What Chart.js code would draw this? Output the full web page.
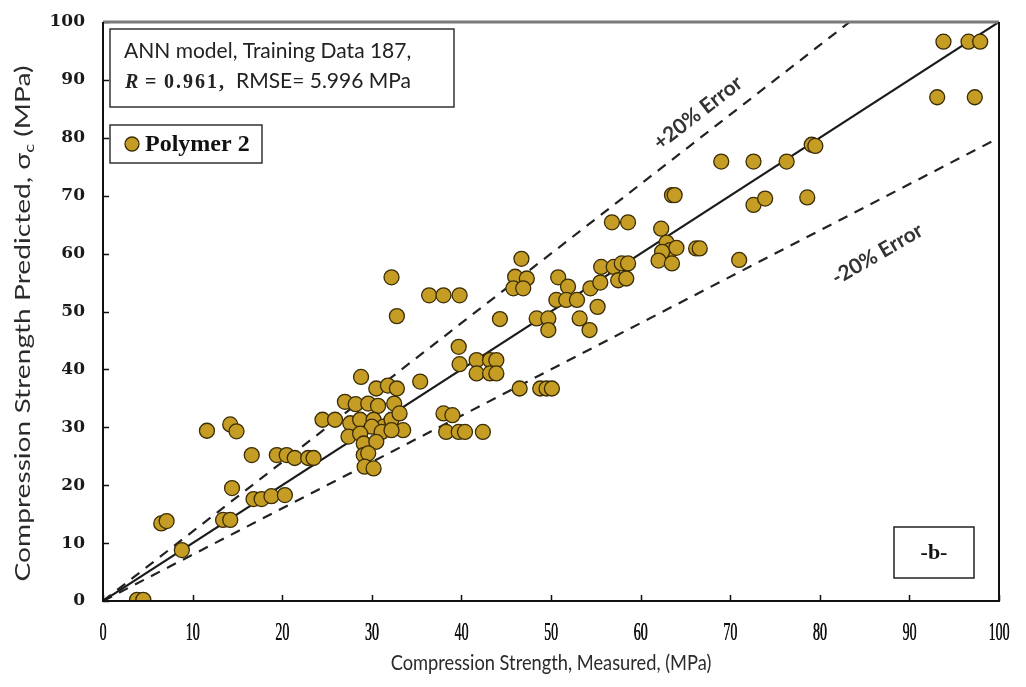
<!DOCTYPE html>
<html>
<head>
<meta charset="utf-8">
<title>ANN model - Polymer 2</title>
<script src="https://cdn.jsdelivr.net/npm/chart.js@4.4.1/dist/chart.umd.min.js"></script>
<style>
	html, body { margin: 0; padding: 0; background: #fff; }
	#wrap { width: 1026px; height: 687px; }
</style>
</head>
<body>
<div id="wrap"><canvas id="chart" width="1026" height="687"></canvas></div>
<script>
// measured vs predicted compression strength (MPa), Polymer 2 training set
const measured = [
	3.8, 4.5, 6.5, 7.1, 8.8, 11.6, 13.4, 14.2, 14.2, 14.9,
	14.4, 16.6, 16.8, 17.7, 18.8, 20.3, 19.4, 20.5, 21.4, 22.9,
	23.5, 24.5, 25.9, 27.0, 28.2, 29.6, 30.7, 32.5, 27.6, 28.7,
	30.2, 31.3, 32.2, 33.1, 30.0, 33.5, 27.4, 28.7, 31.1, 32.2,
	29.1, 30.5, 29.1, 29.6, 29.2, 30.2, 28.8, 30.5, 31.8, 32.8,
	35.4, 32.2, 32.8, 36.4, 38.0, 39.8, 38.0, 39.0, 38.3, 39.7,
	40.4, 42.4, 39.7, 39.8, 41.7, 43.2, 43.9, 41.7, 43.2, 43.9,
	44.3, 46.5, 48.8, 49.5, 50.1, 46.7, 46.0, 47.3, 45.8, 46.9,
	48.4, 49.7, 49.7, 50.8, 51.9, 50.6, 51.7, 52.9, 53.2, 54.3,
	55.2, 54.4, 55.5, 55.6, 57.0, 57.9, 58.6, 57.5, 58.4, 56.8,
	58.6, 62.3, 62.9, 63.3, 62.4, 64.0, 62.0, 63.5, 66.2, 66.6,
	71.0, 63.5, 63.8, 72.6, 73.9, 78.6, 69.0, 72.6, 76.3, 79.1,
	79.5, 93.1, 97.3, 93.8, 96.6, 97.9
];
const predicted = [
	0.2, 0.2, 13.4, 13.8, 8.8, 29.4, 14.0, 14.0, 30.5, 29.3,
	19.5, 25.2, 17.6, 17.6, 18.1, 18.3, 25.2, 25.2, 24.7, 24.7,
	24.7, 31.3, 31.3, 34.4, 34.0, 34.1, 33.7, 34.1, 30.7, 31.3,
	31.3, 30.1, 31.3, 32.4, 30.1, 29.5, 28.4, 28.9, 29.2, 29.5,
	27.2, 27.5, 25.2, 25.5, 23.2, 22.9, 38.7, 36.7, 37.2, 36.7,
	37.9, 55.9, 49.2, 52.8, 52.8, 52.8, 32.4, 32.1, 29.2, 29.2,
	29.2, 29.2, 43.9, 40.9, 41.6, 41.6, 41.6, 39.3, 39.3, 39.3,
	48.7, 36.7, 36.7, 36.7, 36.7, 59.1, 56.0, 55.7, 54.0, 54.0,
	48.8, 48.8, 46.8, 55.9, 54.3, 52.0, 52.0, 52.0, 48.8, 46.8,
	50.8, 54.0, 55.0, 57.7, 57.7, 58.3, 58.3, 55.4, 55.7, 65.4,
	65.4, 64.3, 61.9, 60.6, 60.3, 61.0, 58.8, 58.3, 60.9, 60.9,
	58.9, 70.1, 70.1, 68.4, 69.5, 69.7, 75.9, 75.9, 75.9, 78.8,
	78.6, 87.0, 87.0, 96.6, 96.6, 96.6
];
const axisTicks = [0, 10, 20, 30, 40, 50, 60, 70, 80, 90, 100];
const axisMax = 100;
const errorBand = 0.2; // +/- 20 %

const seriesName = 'Polymer 2';
const infoLine1 = 'ANN model, Training Data 187,';
const infoR = '0.961';
const infoRmse = 'RMSE= 5.996 MPa';
const panelTag = '-b-';
const xTitle = 'Compression Strength, Measured, (MPa)';

const points = measured.map((m, i) => ({ x: m, y: predicted[i] }));
const perfectLine = [{ x: 0, y: 0 }, { x: axisMax, y: axisMax }];
const upperLine = [{ x: 0, y: 0 }, { x: axisMax / (1 + errorBand), y: axisMax }];
const lowerLine = [{ x: 0, y: 0 }, { x: axisMax, y: axisMax * (1 - errorBand) }];

const dotFill = '#c59c24';
const dotEdge = '#3a2d06';

// frame, inward ticks, titles and boxed notes
const decorations = {
	id: 'decorations',
	afterDraw(chart){
		const ctx = chart.ctx;
		const area = chart.chartArea;
		const xs = chart.scales.x;
		const ys = chart.scales.y;
		ctx.save();

		// inward tick marks
		ctx.strokeStyle = '#111';
		ctx.lineWidth = 1.5;
		axisTicks.forEach(t => {
			const px = Math.round(xs.getPixelForValue(t)) + 0.5;
			const py = Math.round(ys.getPixelForValue(t)) + 0.5;
			ctx.beginPath();
			ctx.moveTo(px, area.bottom);
			ctx.lineTo(px, area.bottom - 6);
			ctx.moveTo(area.left, py);
			ctx.lineTo(area.left + 6, py);
			ctx.stroke();
		});

		// plot frame
		ctx.strokeStyle = '#7a7a7a';
		ctx.lineWidth = 3;
		ctx.beginPath();
		ctx.moveTo(area.left, area.top);
		ctx.lineTo(area.right, area.top);
		ctx.stroke();
		ctx.strokeStyle = '#111';
		ctx.lineWidth = 2;
		ctx.beginPath();
		ctx.moveTo(area.right, area.top);
		ctx.lineTo(area.right, area.bottom);
		ctx.lineTo(area.left, area.bottom);
		ctx.lineTo(area.left, area.top);
		ctx.stroke();

		// x tick labels, narrow serif
		ctx.fillStyle = '#111';
		ctx.font = '25px "Liberation Serif"';
		ctx.textAlign = 'center';
		ctx.textBaseline = 'middle';
		axisTicks.forEach(t => {
			const px = xs.getPixelForValue(t);
			ctx.save();
			ctx.translate(px, 633);
			ctx.scale(0.56, 1);
			ctx.fillText(String(t), 0, 0);
			ctx.fillText(String(t), 0.6, 0);
			ctx.restore();
		});

		// axis titles, x title narrowed
		ctx.fillStyle = '#2b2b2b';
		ctx.save();
		ctx.translate((area.left + area.right) / 2, 663);
		ctx.scale(0.83, 1);
		ctx.font = '22px Lato';
		ctx.fillText(xTitle, 0, 0);
		ctx.restore();

		// y title is stretched along its length
		ctx.save();
		ctx.translate(23, (area.top + area.bottom) / 2 + 12);
		ctx.rotate(-Math.PI / 2);
		ctx.scale(1.34, 1);
		const partA = 'Compression Strength Predicted, σ';
		const partC = 'c';
		const partB = ' (MPa)';
		ctx.font = '21px Lato';
		const wA = ctx.measureText(partA).width;
		const wB = ctx.measureText(partB).width;
		ctx.font = '14px Lato';
		const wC = ctx.measureText(partC).width;
		let cx = -(wA + wB + wC) / 2;
		ctx.textAlign = 'left';
		ctx.font = '21px Lato';
		ctx.fillText(partA, cx, 0);
		cx += wA;
		ctx.font = '14px Lato';
		ctx.fillText(partC, cx, 6);
		cx += wC;
		ctx.font = '21px Lato';
		ctx.fillText(partB, cx, 0);
		ctx.restore();

		// info box
		ctx.strokeStyle = '#333';
		ctx.lineWidth = 1.5;
		ctx.strokeRect(110, 29, 344, 78);
		ctx.fillStyle = '#222';
		ctx.textAlign = 'left';
		ctx.textBaseline = 'alphabetic';
		ctx.font = '21px Lato';
		ctx.fillText(infoLine1, 124, 58);
		ctx.font = 'italic bold 20px "Liberation Serif"';
		ctx.fillText('R', 125, 88);
		ctx.font = 'bold 20px "Liberation Serif"';
		ctx.fillText('=', 145, 88);
		ctx.letterSpacing = '2px';
		ctx.fillText(infoR + ',', 164, 88);
		ctx.letterSpacing = '0px';
		ctx.font = '21px Lato';
		ctx.fillText(infoRmse, 236, 88);

		// legend box
		ctx.strokeRect(110, 125, 152, 38);
		ctx.beginPath();
		ctx.arc(132, 144, 7, 0, Math.PI * 2);
		ctx.fillStyle = dotFill;
		ctx.fill();
		ctx.strokeStyle = dotEdge;
		ctx.lineWidth = 1.3;
		ctx.stroke();
		ctx.fillStyle = '#111';
		ctx.font = 'bold 24px "Liberation Serif"';
		ctx.textBaseline = 'middle';
		ctx.fillText(seriesName, 145, 145);

		// panel tag
		ctx.strokeStyle = '#222';
		ctx.lineWidth = 1.5;
		ctx.strokeRect(894, 527, 80, 51);
		ctx.textAlign = 'center';
		ctx.font = 'bold 22px "Liberation Serif"';
		ctx.fillText(panelTag, 934, 553);

		// error band labels, along the dashed lines
		const slope = (line) => {
			const p0 = { x: xs.getPixelForValue(line[0].x), y: ys.getPixelForValue(line[0].y) };
			const p1 = { x: xs.getPixelForValue(line[1].x), y: ys.getPixelForValue(line[1].y) };
			return Math.atan2(p1.y - p0.y, p1.x - p0.x);
		};
		ctx.fillStyle = '#333';
		ctx.font = 'bold 21px Lato';
		ctx.save();
		ctx.translate(xs.getPixelForValue(66.4), ys.getPixelForValue(84.3));
		ctx.rotate(slope(upperLine));
		ctx.fillText('+20% Error', 0, 0);
		ctx.restore();
		ctx.save();
		ctx.translate(xs.getPixelForValue(86.4), ys.getPixelForValue(59.9));
		ctx.rotate(slope(lowerLine) - 0.05);
		ctx.fillText('-20% Error', 0, 0);
		ctx.restore();

		ctx.restore();
	}
};

new Chart(document.getElementById('chart'), {
	type: 'scatter',
	data: {
		datasets: [{
			label: seriesName,
			data: points,
			backgroundColor: dotFill,
			borderColor: dotEdge,
			borderWidth: 1.3,
			pointRadius: 7.5,
			order: 0
		}, {
			label: '1:1',
			data: perfectLine,
			showLine: true,
			borderColor: '#1b1b1b',
			borderWidth: 2.2,
			pointRadius: 0,
			order: 1
		}, {
			label: '+20%',
			data: upperLine,
			showLine: true,
			borderColor: '#222',
			borderWidth: 2.2,
			borderDash: [10, 8],
			pointRadius: 0,
			order: 2
		}, {
			label: '-20%',
			data: lowerLine,
			showLine: true,
			borderColor: '#222',
			borderWidth: 2.2,
			borderDash: [10, 8],
			pointRadius: 0,
			order: 3
		}]
	},
	options: {
		responsive: false,
		animation: false,
		layout: { padding: { left: 0, right: 27, top: 22, bottom: 0 } },
		plugins: {
			legend: { display: false },
			tooltip: { enabled: false }
		},
		scales: {
			x: {
				type: 'linear',
				min: 0,
				max: axisMax,
				ticks: { stepSize: 10, display: false },
				grid: { display: false, drawTicks: false },
				border: { display: false },
				afterFit: s => { s.height = 86; s.paddingLeft = 0; s.paddingRight = 0; }
			},
			y: {
				type: 'linear',
				min: 0,
				max: axisMax,
				ticks: {
					stepSize: 10,
					padding: 18,
					color: '#1a1a1a',
					font: { family: 'DejaVu Serif', weight: 'bold', size: 17 }
				},
				grid: { display: false, drawTicks: false },
				border: { display: false },
				afterFit: s => { s.width = 103; s.paddingTop = 0; s.paddingBottom = 0; }
			}
		}
	},
	plugins: [decorations]
});
</script>
</body>
</html>
